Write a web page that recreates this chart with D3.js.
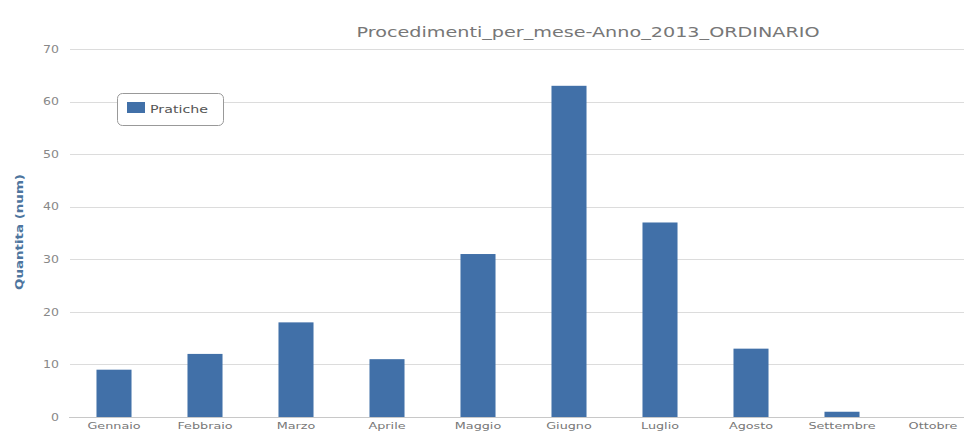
<!DOCTYPE html>
<html><head><meta charset="utf-8">
<script src="https://cdn.jsdelivr.net/npm/d3@7"></script>
<style>body{margin:0;background:#fff}svg{display:block}</style>
</head><body>
<svg id="c" width="964" height="435"></svg>
<script>
const categories = ["Gennaio","Febbraio","Marzo","Aprile","Maggio","Giugno","Luglio","Agosto","Settembre","Ottobre"];
const pratiche = [9,12,18,11,31,63,37,13,1,0];
const yTicks = [0,10,20,30,40,50,60,70];
const title = "Procedimenti_per_mese-Anno_2013_ORDINARIO";
const yTitle = "Quantita (num)";
const seriesName = "Pratiche";

(function(){
const svg = d3.select("#c");
const FONT = "DejaVu Sans, sans-serif";
const pLeft = 68.5, pRight = 978.5, pTop = 49, pBottom = 417;
const x = d3.scaleBand().domain(categories).range([pLeft, pRight]).paddingInner(0.615).paddingOuter(0.3075);
const y = d3.scaleLinear().domain([0,70]).range([pBottom, pTop]);

function stretch(sel, f) {
  sel.each(function(){
    const w = this.getComputedTextLength();
    d3.select(this).attr("textLength", w * f).attr("lengthAdjust", "spacingAndGlyphs");
  });
}

// grid
svg.append("g").selectAll("line").data(yTicks).join("line")
  .attr("x1", 70).attr("x2", 964)
  .attr("y1", d => Math.round(y(d))+0.5).attr("y2", d => Math.round(y(d))+0.5)
  .attr("stroke", "#dcdcdc").attr("stroke-width", 1);

// y axis labels
const ya = svg.append("g").attr("transform", `translate(59,0)`)
  .call(d3.axisLeft(y).tickValues(yTicks).tickSize(0).tickPadding(0));
ya.select(".domain").remove();
ya.selectAll("text").attr("fill", "#888").style("font-family",FONT).style("font-size","10px");
stretch(ya.selectAll("text"), 1.25);

// x axis labels
const xa = svg.append("g").attr("transform", `translate(0,${pBottom})`)
  .call(d3.axisBottom(x).tickSize(0).tickPadding(6));
xa.select(".domain").attr("stroke","#c8c8c8");
xa.selectAll("text").attr("fill", "#777").style("font-family",FONT).style("font-size","9px");
stretch(xa.selectAll("text"), 1.42);

// bars
svg.append("g").selectAll("rect").data(pratiche).join("rect")
  .attr("x", (d,i) => x(categories[i]))
  .attr("width", x.bandwidth())
  .attr("y", d => y(d))
  .attr("height", d => pBottom - y(d))
  .attr("fill", "#4170a8");

// title
const t = svg.append("text").attr("x", 588).attr("y", 37).attr("text-anchor","middle")
  .attr("fill","#777").style("font-family",FONT).style("font-size","14px").text(title);
t.attr("textLength", 463).attr("lengthAdjust","spacingAndGlyphs");

// y title
svg.append("text").attr("transform","translate(23,232) rotate(-90)").attr("text-anchor","middle")
  .attr("fill","#4d759e").style("font-family",FONT).style("font-size","10.5px").style("font-weight","bold")
  .text(yTitle).attr("textLength", 116).attr("lengthAdjust","spacingAndGlyphs");

// legend
const lg = svg.append("g");
lg.append("rect").attr("x",117.5).attr("y",93.5).attr("width",106).attr("height",32).attr("rx",5)
  .attr("fill","#fff").attr("stroke","#999").attr("stroke-width",1);
lg.append("rect").attr("x",127).attr("y",102).attr("width",18).attr("height",11).attr("fill","#4170a8");
const lt = lg.append("text").attr("x",150).attr("y",113).attr("fill","#555")
  .style("font-family",FONT).style("font-size","10px").text(seriesName);
lt.attr("textLength", 58).attr("lengthAdjust","spacingAndGlyphs");
})();
</script>
</body></html>
